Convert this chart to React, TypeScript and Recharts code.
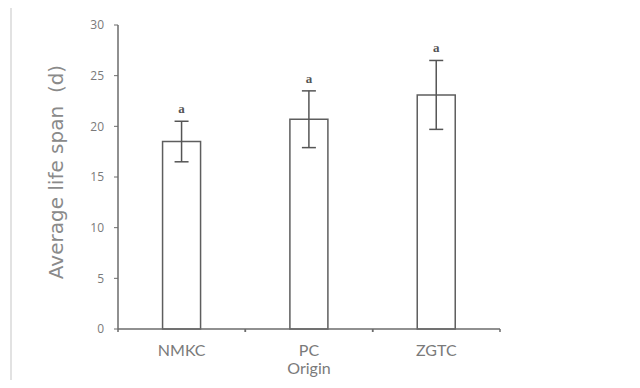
import React from 'react';
import { BarChart, Bar, XAxis, YAxis, ErrorBar, LabelList, Label } from 'recharts';

const origins = ['NMKC', 'PC', 'ZGTC'];
const lifeSpan = [18.5, 20.7, 23.1];
const lifeSpanErr = [2.0, 2.8, 3.4];
const letters = ['a', 'a', 'a'];
const yTicks = [0, 5, 10, 15, 20, 25, 30];

const data = origins.map((origin, i) => ({
    origin,
    value: lifeSpan[i],
    err: lifeSpanErr[i],
    letter: letters[i]
}));

const axisColor = '#6b6b6b';
const textColor = '#7a7a7a';
const X_TICK_SIZE = 6;
const X_TICK_MARGIN = 9;

// category label plus small tick marks at both band edges
const OriginTick = (props: any) => {
    const { x, y, payload } = props;
    const half = payload.offset || 0;
    const axisY = y - X_TICK_SIZE - X_TICK_MARGIN;
    return (
        <g>
            <line x1={x - half} x2={x - half} y1={axisY} y2={axisY + 3} stroke={axisColor} strokeWidth={1.5} />
            <line x1={x + half} x2={x + half} y1={axisY} y2={axisY + 3} stroke={axisColor} strokeWidth={1.5} />
            <text
                x={x}
                y={y}
                dy={11.5}
                textAnchor="middle"
                fill={textColor}
                fontSize={16}
                fontFamily="'Lato', sans-serif"
            >
                {payload.value}
            </text>
        </g>
    );
};

const LetterLabel = (props: any) => {
    const { x, y, width, height, index } = props;
    const d = data[index];
    const pxPerUnit = height / d.value;
    const top = y - d.err * pxPerUnit;
    return (
        <text
            x={x + width / 2}
            y={top - 8}
            textAnchor="middle"
            fontFamily="'Liberation Serif', serif"
            fontWeight="bold"
            fontSize={13}
            fill="#555"
        >
            {d.letter}
        </text>
    );
};

const YTitle = (props: any) => {
    const { viewBox } = props;
    const cx = viewBox.x + 56;
    const cy = viewBox.y + viewBox.height / 2 - 5;
    return (
        <text
            x={cx}
            y={cy}
            transform={`rotate(-90, ${cx}, ${cy})`}
            textAnchor="middle"
            dominantBaseline="central"
            fontFamily="'DejaVu Sans', sans-serif"
            fontSize={20}
            fill="#8a8a8a"
        >
            {'Average life span\u00a0\u00a0(d)'}
        </text>
    );
};

const App: React.FC = () => {
    return (
        <div style={{ margin: -8, width: 640, height: 388, background: '#fff', position: 'relative' }}>
            <div
                style={{
                    position: 'absolute',
                    left: 10,
                    top: 7,
                    right: 0,
                    bottom: 0,
                    borderTop: '1px solid #dedede',
                    borderLeft: '2px solid #e2e2e2'
                }}
            />
            <BarChart
                width={640}
                height={388}
                data={data}
                margin={{ top: 25, right: 140, bottom: 11, left: 0 }}
                barCategoryGap="35%"
                style={{ position: 'absolute', left: 0, top: 0 }}
            >
                <XAxis
                    dataKey="origin"
                    height={48}
                    tickLine={false}
                    tickSize={X_TICK_SIZE}
                    tickMargin={X_TICK_MARGIN}
                    axisLine={{ stroke: axisColor, strokeWidth: 1.5 }}
                    tick={<OriginTick />}
                >
                    <Label
                        value="Origin"
                        position="insideBottom"
                        offset={3}
                        fill={textColor}
                        fontSize={16}
                        fontFamily="'Lato', sans-serif"
                    />
                </XAxis>
                <YAxis
                    width={118}
                    domain={[0, 30]}
                    ticks={yTicks}
                    interval={0}
                    tickSize={4}
                    tickMargin={10}
                    axisLine={{ stroke: axisColor, strokeWidth: 1.5 }}
                    tickLine={{ stroke: axisColor }}
                    tick={{ fill: textColor, fontSize: 12, fontFamily: "'Open Sans', sans-serif" }}
                >
                    <Label content={<YTitle />} />
                </YAxis>
                <Bar
                    dataKey="value"
                    fill="#fff"
                    stroke="#5e5e5e"
                    strokeWidth={1.5}
                    isAnimationActive={false}
                >
                    <ErrorBar dataKey="err" width={7} stroke="#555" strokeWidth={1.5} />
                    <LabelList dataKey="letter" content={<LetterLabel />} />
                </Bar>
            </BarChart>
        </div>
    );
};

export default App;
